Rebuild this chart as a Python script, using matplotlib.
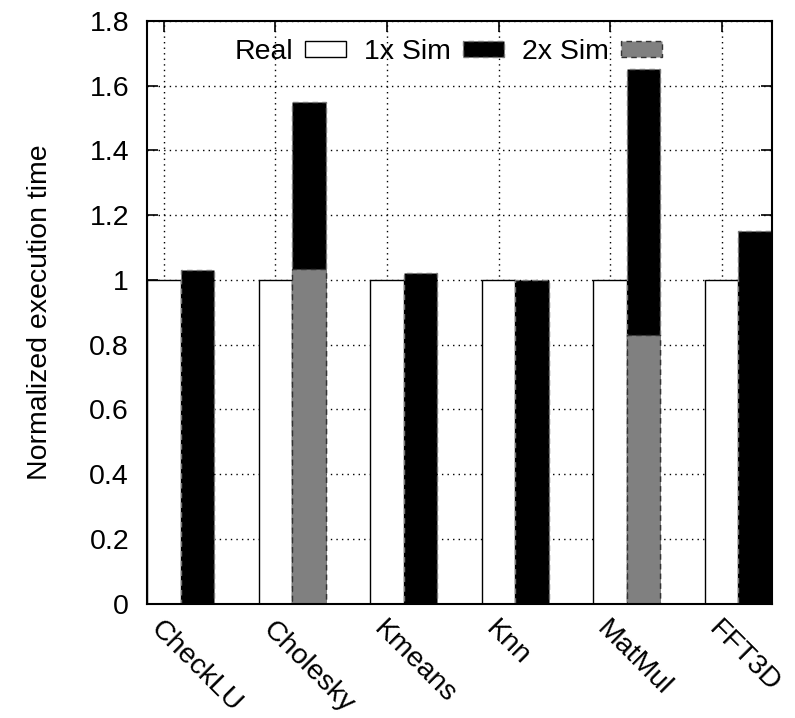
import numpy as np
import matplotlib.pyplot as plt
from matplotlib.patches import Patch

plt.rcParams['font.family'] = ['Liberation Sans', 'DejaVu Sans']

benchmarks = ['CheckLU', 'Cholesky', 'Kmeans', 'Knn', 'MatMul', 'FFT3D']
real = [1.0, 1.0, 1.0, 1.0, 1.0, 1.0]
sim_1x = [1.03, 1.55, 1.02, 1.0, 1.65, 1.15]
sim_2x = [0.0, 1.035, 0.0, 0.0, 0.83, 0.0]   # only measured for Cholesky and MatMul

x = np.arange(len(benchmarks))
w = 0.3
fs = 20.5

fig, ax = plt.subplots(figsize=(7.95, 7.18), dpi=100)
fig.subplots_adjust(left=0.185, right=0.971, top=0.971, bottom=0.159)

# grid first, bars cover it
ax.set_axisbelow(True)
ax.grid(True, linestyle=(0, (1, 3)), color='black', linewidth=1.0)

ax.bar(x, real, width=w, color='white', edgecolor='black', linewidth=1.0, label='Real')
ax.bar(x + w, sim_1x, width=w, color='black', edgecolor='#777777', linewidth=1.0,
       linestyle=(0, (4, 3)), label='1x Sim')
ax.bar(x + w, sim_2x, width=w, color='#808080', edgecolor='#333333', linewidth=1.0,
       linestyle=(0, (4, 3)), label='2x Sim')

ax.set_xlim(-0.15, 5.45)
ax.set_ylim(0, 1.8)
ax.set_yticks(np.arange(0, 1.81, 0.2))
ax.set_yticklabels(['%g' % round(v, 1) for v in np.arange(0, 1.81, 0.2)])
ax.set_xticks(x)
ax.set_xticklabels(benchmarks, rotation=-45, ha='left', va='top', rotation_mode='anchor')

ax.tick_params(direction='in', length=8, width=1.2, top=True, right=True, labelsize=fs)
ax.tick_params(axis='y', pad=13)
ax.tick_params(axis='x', pad=9)
for s in ax.spines.values():
    s.set_linewidth(1.5)

ax.set_ylabel('Normalized execution time', fontsize=fs, labelpad=26)

handles = [
    Patch(facecolor='white', edgecolor='black', linewidth=1.0, label='Real'),
    Patch(facecolor='black', edgecolor='#777777', linewidth=1.0, linestyle=(0, (4, 3)), label='1x Sim'),
    Patch(facecolor='#808080', edgecolor='#333333', linewidth=1.0, linestyle=(0, (4, 3)), label='2x Sim'),
]
ax.legend(handles=handles, loc='upper center', bbox_to_anchor=(0.482, 1.0), ncol=3,
          frameon=False, markerfirst=False, fontsize=fs, handlelength=1.45,
          handleheight=0.5, handletextpad=0.4, columnspacing=0.65, borderaxespad=0.25)

plt.savefig('out.png', dpi=100)
